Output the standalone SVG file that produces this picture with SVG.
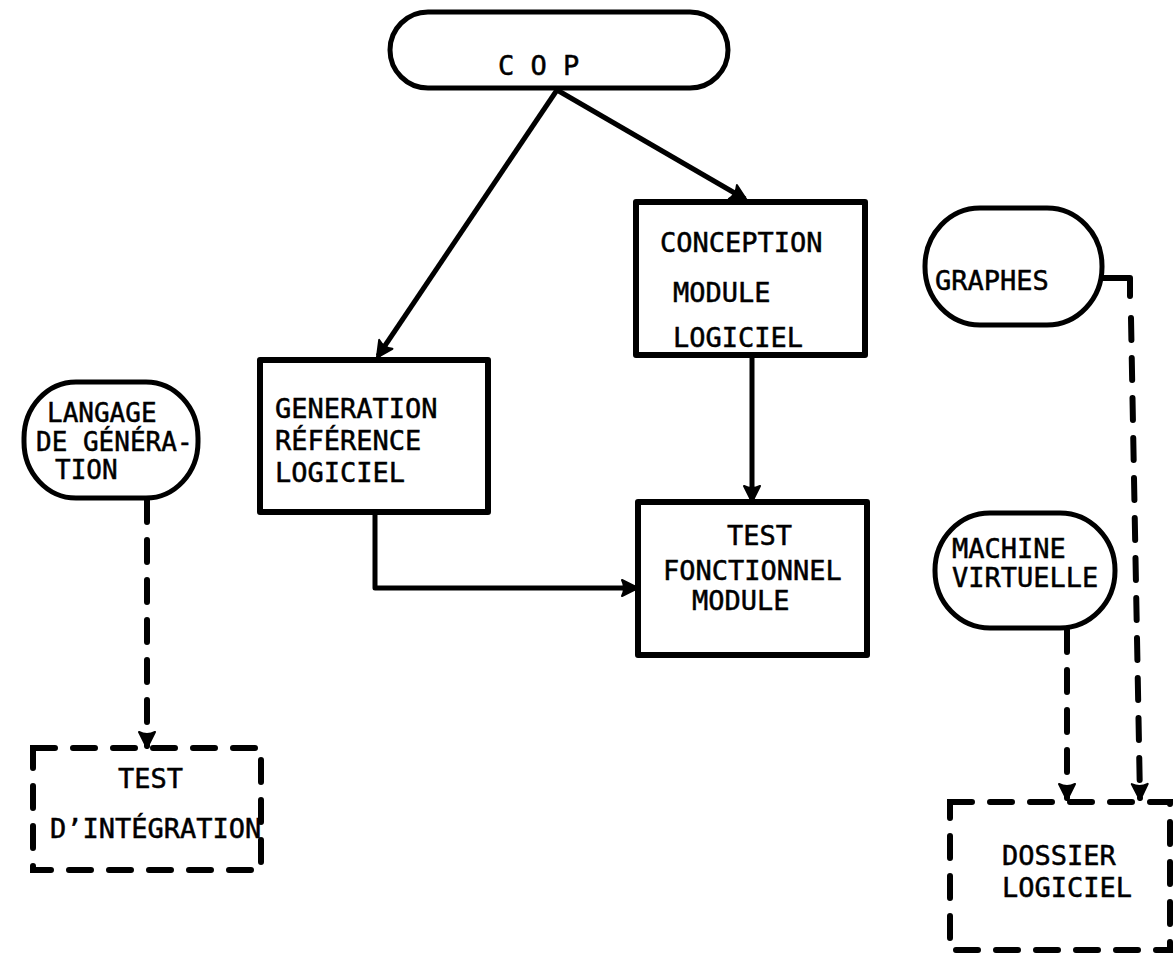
<svg xmlns="http://www.w3.org/2000/svg" width="1173" height="954" viewBox="0 0 1173 954">
  <style>
    .box { fill: #fff; stroke: #000; stroke-width: 6; stroke-linejoin: round; }
    .pill { fill: #fff; stroke: #000; stroke-width: 5; }
    .dbox { fill: none; stroke: #000; stroke-width: 6; stroke-dasharray: 22 18; stroke-linecap: round; }
    .link { fill: none; stroke: #000; stroke-width: 5; stroke-linejoin: round; }
    .dlink { fill: none; stroke: #000; stroke-width: 6; stroke-dasharray: 22 18; stroke-linecap: round; }
    .hook { fill: none; stroke: #000; stroke-width: 6; stroke-linecap: round; stroke-linejoin: round; }
    text { font-family: "DejaVu Sans Mono", "Liberation Mono", monospace; font-size: 27px; fill: #000; stroke: #000; stroke-width: 0.5; }
    .small { font-size: 26px; }
  </style>
  <defs>
    <marker id="tip" markerUnits="userSpaceOnUse" markerWidth="24" markerHeight="24" refX="0" refY="0" viewBox="-18 -12 24 24" orient="auto">
      <path d="M2,0 L-14,-8 Q-10,0 -14,8 Z" fill="#000" stroke="#000" stroke-width="2" stroke-linejoin="round"/>
    </marker>
  </defs>

  <!-- connectors -->
  <g id="connectors">
    <path class="link" d="M557,90 L378,356" marker-end="url(#tip)"/>
    <path class="link" d="M557,90 L745,199" marker-end="url(#tip)"/>
    <path class="link" d="M752,355 V500" marker-end="url(#tip)"/>
    <path class="link" d="M375,512 V588 H636" marker-end="url(#tip)"/>
    <path class="dlink" d="M147,500 V746" marker-end="url(#tip)"/>
    <path class="dlink" d="M1067,630 V798" marker-end="url(#tip)"/>
    <path class="hook" d="M1102,278 H1130 V296"/>
    <path class="dlink" d="M1131,318 L1140,798" marker-end="url(#tip)"/>
  </g>

  <g id="cop">
    <rect class="pill" x="390" y="12" width="338" height="76" rx="38" ry="38"/>
    <text x="498" y="75">C O P</text>
  </g>

  <g id="conception">
    <rect class="box" x="636" y="202" width="229" height="153"/>
    <text x="660" y="252">CONCEPTION</text>
    <text x="673" y="302">MODULE</text>
    <text x="673" y="347">LOGICIEL</text>
  </g>

  <g id="generation">
    <rect class="box" x="260" y="360" width="228" height="152"/>
    <text x="275" y="418">GENERATION</text>
    <text x="275" y="450">RÉFÉRENCE</text>
    <text x="275" y="482">LOGICIEL</text>
  </g>

  <g id="test-fonctionnel">
    <rect class="box" x="638" y="502" width="229" height="153"/>
    <text x="727" y="545">TEST</text>
    <text x="663" y="580">FONCTIONNEL</text>
    <text x="692" y="610">MODULE</text>
  </g>

  <g id="langage">
    <rect class="pill" x="24" y="382" width="174" height="116" rx="52" ry="56"/>
    <text class="small" x="47" y="422">LANGAGE</text>
    <text class="small" x="36" y="451">DE GÉNÉRA-</text>
    <text class="small" x="55" y="479">TION</text>
  </g>

  <g id="test-integration">
    <rect class="dbox" x="33" y="748" width="228" height="122"/>
    <text x="118" y="788">TEST</text>
    <text x="50" y="838">D’INTÉGRATION</text>
  </g>

  <g id="graphes">
    <rect class="pill" x="925" y="208" width="177" height="117" rx="55" ry="58"/>
    <text x="935" y="290">GRAPHES</text>
  </g>

  <g id="machine">
    <rect class="pill" x="935" y="513" width="180" height="115" rx="55" ry="57"/>
    <text x="952" y="558">MACHINE</text>
    <text x="952" y="587">VIRTUELLE</text>
  </g>

  <g id="dossier">
    <rect class="dbox" x="950" y="802" width="220" height="148"/>
    <text x="1002" y="865">DOSSIER</text>
    <text x="1002" y="897">LOGICIEL</text>
  </g>
</svg>
